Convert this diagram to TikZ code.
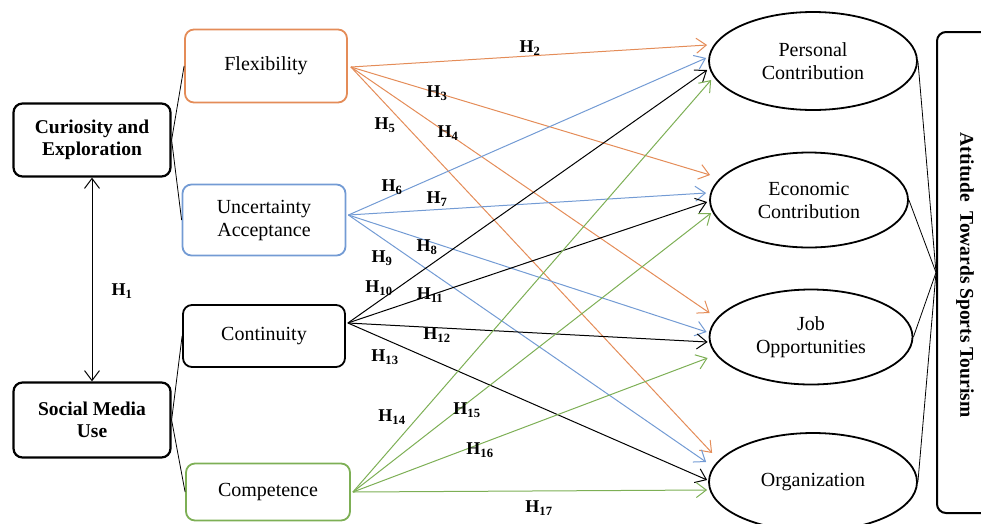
\documentclass[tikz,border=0pt]{standalone}
\usepackage{fontspec}
\setmainfont{Liberation Serif}
\definecolor{hyporange}{RGB}{228,140,88}
\definecolor{hypblue}{RGB}{115,155,212}
\definecolor{hypgreen}{RGB}{125,175,85}
\usetikzlibrary{arrows.meta, shapes.geometric}

\begin{document}
\begin{tikzpicture}[
  x=1pt, y=-1pt,
  factor/.style={draw, line width=2.2pt, rounded corners=9pt, align=center,
                 minimum width=157pt, font=\fontsize{19.5}{22}\selectfont\bfseries},
  dimbox/.style={draw=#1, line width=1.8pt, rounded corners=9pt, align=center,
                 minimum width=162pt, font=\fontsize{20}{23}\selectfont},
  outcome/.style={draw, ellipse, line width=1.8pt, align=center, inner sep=0pt,
                  font=\fontsize{20}{23}\selectfont},
  hyp/.style={-{Straight Barb[length=10pt,width=15pt]}, line width=1pt, draw=#1},
  hlab/.style={inner sep=0pt, font=\fontsize{18}{18}\selectfont\bfseries},
  link/.style={line width=0.8pt}
]
\useasboundingbox (0,0) rectangle (981,523);

% independent factors
\node[factor, minimum height=73pt] (cur) at (92,140) {Curiosity and\\Exploration};
\node[factor, minimum height=75pt] (smu) at (92,420) {Social Media\\Use};

% dimensions
\node[dimbox=hyporange, minimum height=73pt] (flex) at (266,66) {Flexibility};
\node[dimbox=hypblue, minimum height=71pt, minimum width=163pt] (unc) at (264,220) {Uncertainty\\Acceptance};
\node[dimbox=black, minimum height=62pt] (cont) at (264,336) {Continuity};
\node[dimbox=hypgreen, minimum height=57pt, minimum width=164pt] (comp) at (268,492) {Competence};

% outcomes
\node[outcome, minimum width=208pt, minimum height=98pt] (per) at (813,61) {Personal\\Contribution};
\node[outcome, minimum width=198pt, minimum height=95pt] (eco) at (809,200) {Economic\\Contribution};
\node[outcome, minimum width=203pt, minimum height=95pt] (job) at (811,337) {Job\\Opportunities};
\node[outcome, minimum width=208pt, minimum height=98pt] (org) at (813,482) {Organization};

\node[draw, line width=2pt, rounded corners=9pt, minimum width=70pt, minimum height=481pt] (att) at (972,272.5) {};
\node[rotate=-90, font=\fontsize{19.5}{19.5}\selectfont\bfseries] (atttitle) at (965,275) {Attitude\ \ Towards Sports Tourism};

\draw[link] (cur.east) -- (flex.west);
\draw[link] (cur.east) -- (unc.west);
\draw[link] (smu.east) -- (cont.west);
\draw[link] (smu.east) -- (comp.west);
\draw[link] (per.east) -- (att.west);
\draw[link] (eco.east) -- (att.west);
\draw[link] (job.east) -- (att.west);
\draw[link] (org.east) -- (att.west);

\draw[{Straight Barb[length=10pt,width=15pt]}-{Straight Barb[length=10pt,width=15pt]}, line width=1pt]
  (cur.south) -- (smu.north);
\node[hlab] (h1) at (122,291) {H\textsubscript{1}};

% arrow start and end points
\coordinate (flexo) at ([shift={(3,1)}]flex.east);
\coordinate (unco) at ([shift={(2,-5)}]unc.east);
\coordinate (conto) at ([shift={(2,-13)}]cont.east);
\coordinate (compo) at ([shift={(2,0)}]comp.east);

\coordinate (per1) at ([shift={(-1,-16)}]per.west);
\coordinate (per2) at ([shift={(-2,-3)}]per.west);
\coordinate (per3) at ([shift={(-1,9)}]per.west);
\coordinate (per4) at ([shift={(3,19)}]per.west);
\coordinate (eco1) at ([shift={(1,-25)}]eco.west);
\coordinate (eco2) at ([shift={(-3,-7)}]eco.west);
\coordinate (eco3) at ([shift={(-2,2)}]eco.west);
\coordinate (eco4) at ([shift={(2,13)}]eco.west);
\coordinate (job1) at ([shift={(1,-24)}]job.west);
\coordinate (job2) at ([shift={(-2,-5)}]job.west);
\coordinate (job3) at ([shift={(-1,5)}]job.west);
\coordinate (job4) at ([shift={(-1,21)}]job.west);
\coordinate (org1) at ([shift={(4,-29)}]org.west);
\coordinate (org2) at ([shift={(-2,-20)}]org.west);
\coordinate (org3) at ([shift={(-1,-2)}]org.west);
\coordinate (org4) at ([shift={(-1,8)}]org.west);

% hypotheses
\draw[hyp=hyporange] (flexo) -- (per1);
\draw[hyp=hyporange] (flexo) -- (eco1);
\draw[hyp=hyporange] (flexo) -- (job1);
\draw[hyp=hyporange] (flexo) -- (org1);
\draw[hyp=hypblue] (unco) -- (per2);
\draw[hyp=hypblue] (unco) -- (eco2);
\draw[hyp=hypblue] (unco) -- (job2);
\draw[hyp=hypblue] (unco) -- (org2);
\draw[hyp=black] (conto) -- (per3);
\draw[hyp=black] (conto) -- (eco3);
\draw[hyp=black] (conto) -- (job3);
\draw[hyp=black] (conto) -- (org3);
\draw[hyp=hypgreen] (compo) -- (per4);
\draw[hyp=hypgreen] (compo) -- (eco4);
\draw[hyp=hypgreen] (compo) -- (job4);
\draw[hyp=hypgreen] (compo) -- (org4);

\node[hlab] (h2) at (530,48) {H\textsubscript{2}};
\node[hlab] (h3) at (437,93) {H\textsubscript{3}};
\node[hlab] (h4) at (448,133) {H\textsubscript{4}};
\node[hlab] (h5) at (385,125) {H\textsubscript{5}};
\node[hlab] (h6) at (392,187) {H\textsubscript{6}};
\node[hlab] (h7) at (437,199) {H\textsubscript{7}};
\node[hlab] (h8) at (427,247) {H\textsubscript{8}};
\node[hlab] (h9) at (382,258) {H\textsubscript{9}};
\node[hlab] (h10) at (379,288) {H\textsubscript{10}};
\node[hlab] (h11) at (430,295) {H\textsubscript{11}};
\node[hlab] (h12) at (437,335) {H\textsubscript{12}};
\node[hlab] (h13) at (385,357) {H\textsubscript{13}};
\node[hlab] (h14) at (392,417) {H\textsubscript{14}};
\node[hlab] (h15) at (467,410) {H\textsubscript{15}};
\node[hlab] (h16) at (480,450) {H\textsubscript{16}};
\node[hlab] (h17) at (539,508) {H\textsubscript{17}};
\end{tikzpicture}
\end{document}
